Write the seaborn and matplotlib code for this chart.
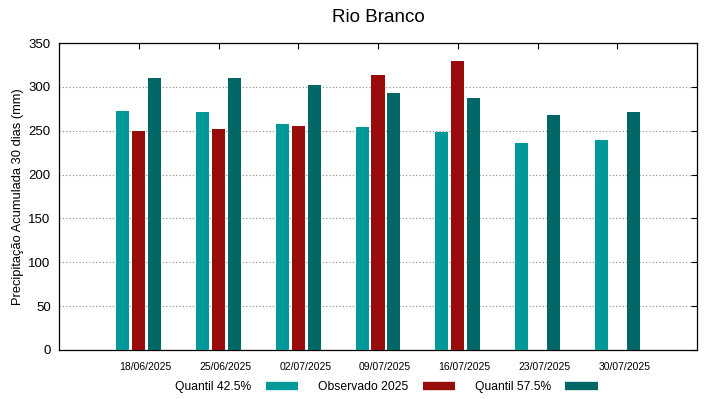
import matplotlib
matplotlib.use("Agg")
import matplotlib.pyplot as plt
import matplotlib.transforms as mtransforms
from matplotlib.lines import Line2D
import seaborn as sns
import pandas as pd
import numpy as np

# data
dates = ["18/06/2025", "25/06/2025", "02/07/2025", "09/07/2025",
         "16/07/2025", "23/07/2025", "30/07/2025"]
q425 = [272.5, 271.5, 258, 254.5, 249, 235.5, 239]
observado = [250, 252.5, 255.5, 313.5, 329, np.nan, np.nan]
q575 = [310, 310, 302, 293, 287.5, 268, 271]

series = ["Quantil 42.5%", "Observado 2025", "Quantil 57.5%"]
colors = ["#009999", "#990c0c", "#006666"]

df = pd.DataFrame({
    "data": dates * 3,
    "serie": [series[0]] * 7 + [series[1]] * 7 + [series[2]] * 7,
    "valor": q425 + observado + q575,
})

sns.set_style("white")
plt.rcParams["font.family"] = ["Liberation Sans", "DejaVu Sans"]
plt.rcParams["text.color"] = "black"
plt.rcParams["axes.labelcolor"] = "black"

fig = plt.figure(figsize=(7.19, 3.99), dpi=100)
ax = fig.add_axes([59 / 719, 1 - 350 / 399, 638 / 719, 307 / 399])

sns.barplot(data=df, x="data", y="valor", hue="serie", hue_order=series,
            order=dates, palette=colors, width=0.6, gap=0.18,
            saturation=1, linewidth=0, legend=False, ax=ax, zorder=3)

ax.set_xlim(-1, 7)
ax.set_ylim(0, 350)
ax.set_yticks(range(0, 351, 50))
ax.yaxis.grid(True, linestyle=(0, (1, 2)), color="#888888", linewidth=0.8, zorder=0)
ax.set_axisbelow(True)

for s in ax.spines.values():
    s.set_color("black")
    s.set_linewidth(0.9)

ax.tick_params(axis="y", direction="in", length=4, width=0.8, right=True,
               labelsize=9.5, pad=6, colors="black")
ax.tick_params(axis="x", direction="in", length=4, width=0.8, top=True,
               labelsize=7.5, pad=9, colors="black")

# gnuplot puts the date labels a bit right of the tick
shift = mtransforms.ScaledTranslation(7 / 100, 0, fig.dpi_scale_trans)
for lbl in ax.get_xticklabels():
    lbl.set_transform(lbl.get_transform() + shift)

ax.set_xlabel("")
ax.set_ylabel("Precipitação Acumulada 30 dias (mm)", fontsize=9.3, labelpad=3)
ax.set_title("Rio Branco", fontsize=13.5, pad=15, color="black")

handles = [Line2D([0], [0], color=c, lw=6, solid_capstyle="butt") for c in colors]
fig.legend(handles, series, loc="center", bbox_to_anchor=(386.5 / 719, 1 - 387 / 399),
           ncol=3, frameon=False, markerfirst=False, fontsize=8.7,
           handlelength=2.7, handletextpad=1.2, columnspacing=1.6)

fig.savefig("out.png", dpi=100)
